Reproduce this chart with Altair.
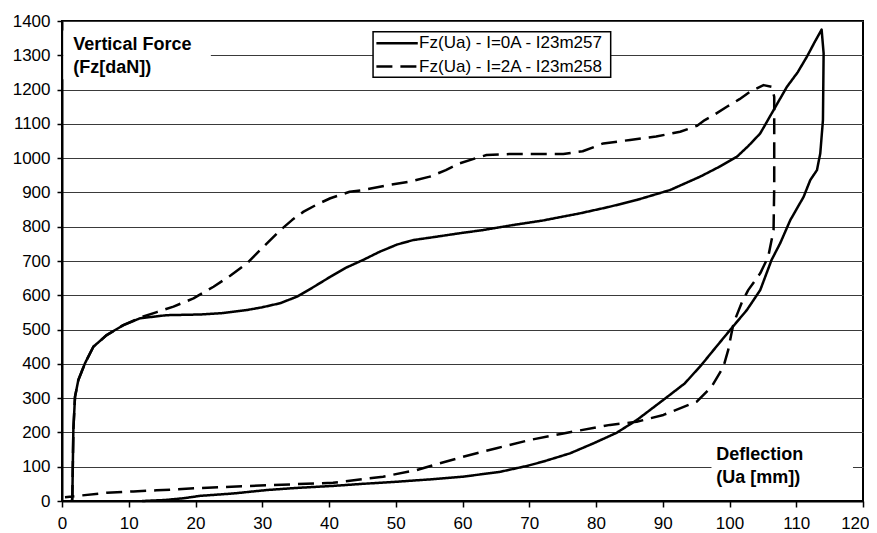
import altair as alt
import pandas as pd

# ---- data ----
X_TICKS = list(range(0, 121, 10))
Y_TICKS = list(range(0, 1401, 100))

SERIES = ["Fz(Ua) - I=0A - I23m257", "Fz(Ua) - I=2A - I23m258"]

# I = 0 A (solid): loading branch then unloading branch
S0_X = [1.5, 1.55, 1.7, 1.95, 2.45, 3.45, 4.7, 6.7, 9.2, 11.7, 15.7, 20.7, 24.0, 27.7,
        30.0, 32.7, 35.2, 37.5, 40.2, 42.5, 45.1, 47.6, 50.2, 52.6, 55.1, 59.6, 63.0,
        67.6, 72.0, 77.6, 82.0, 86.1, 91.1, 95.6, 98.5, 101.1, 102.8, 104.6, 106.6,
        108.6, 110.2, 111.6, 112.8, 113.8,
        114.1, 114.0, 113.6, 113.1, 112.1, 111.1, 109.1, 107.6, 106.3, 104.6, 102.6,
        100.1, 97.6, 95.8, 93.3, 90.1, 86.1, 83.1, 79.6, 76.1, 72.1, 69.6, 65.6, 60.1,
        55.1, 50.0, 45.0, 40.6, 35.0, 30.7, 25.7, 20.7, 18.2, 15.5, 13.2, 12.0]
S0_Y = [0, 13, 207, 304, 353, 402, 450, 484, 513, 533, 542, 544, 548, 557,
        565, 577, 596, 622, 654, 680, 703, 727, 748, 761, 768, 781, 790,
        805, 818, 839, 858, 878, 907, 946, 975, 1004, 1035, 1072, 1140,
        1208, 1250, 1296, 1340, 1375,
        1306, 1111, 1014, 965, 936, 887, 819, 752, 703, 615, 557,
        499, 440, 397, 343, 295, 236, 199, 168, 139, 115, 102, 85, 71,
        63, 56, 50, 44, 38, 32, 22, 15, 8, 3, 1, 0]

# I = 2 A (dashed): loading branch then unloading branch
S1_X = [1.5, 1.55, 1.7, 1.95, 2.45, 3.45, 4.7, 6.7, 9.2, 11.7, 14.2, 16.7, 19.7, 22.7,
        25.2, 27.7, 30.2, 32.7, 34.5, 36.2, 38.2, 40.2, 43.1, 45.1, 48.5, 52.0, 55.1,
        57.5, 59.6, 62.0, 63.6, 67.0, 70.1, 75.1, 78.0, 81.1, 85.1, 89.0, 92.6, 95.1,
        96.3, 97.6, 99.6, 101.5, 103.1, 105.1, 106.3,
        106.7, 106.7, 106.6, 105.8, 104.6, 102.8, 101.8, 100.6, 100.3, 99.8, 99.1,
        97.3, 95.1, 90.1, 86.1, 82.1, 75.1, 70.1, 65.1, 60.1, 56.6, 53.1, 48.1, 40.6,
        35.0, 30.7, 20.7, 14.2, 10.7, 6.7, 0.45]
S1_Y = [0, 13, 207, 304, 353, 402, 450, 484, 513, 535, 551, 567, 591, 625,
        657, 693, 742, 790, 820, 844, 865, 883, 902, 907, 920, 931, 946,
        965, 985, 1000, 1009, 1012, 1012, 1012, 1020, 1043, 1053, 1063, 1077, 1094,
        1111, 1125, 1150, 1172, 1194, 1213, 1208,
        1179, 917, 790, 712, 664, 615, 577, 518, 489, 440, 392,
        333, 290, 251, 231, 222, 197, 178, 154, 129, 110, 90, 71, 53,
        49, 46, 38, 31, 28, 24, 11]

rows = []
for name, xs_, ys_ in ((SERIES[0], S0_X, S0_Y), (SERIES[1], S1_X, S1_Y)):
    for i, (xv, yv) in enumerate(zip(xs_, ys_)):
        rows.append({"series": name, "i": i, "ua": xv, "fz": yv})
df = pd.DataFrame(rows)

FONT = "Liberation Sans"
xscale = alt.Scale(domain=[0, 120], nice=False, zero=False)
yscale = alt.Scale(domain=[0, 1400], nice=False, zero=False)
dash = alt.Scale(domain=SERIES, range=[[1, 0], [16, 8]])
last_x = X_TICKS[-1]
xaxis = alt.Axis(
    values=X_TICKS, title=None, grid=False, tickSize=6, format="d",
    labelPadding=8, labelFlush=False,
    labelAlign={"condition": {"test": f"datum.value == {last_x}", "value": "right"},
                "value": "center"},
    labelOffset={"condition": {"test": f"datum.value == {last_x}", "value": 6},
                 "value": 0},
)
yaxis = alt.Axis(values=Y_TICKS, title=None, grid=True, tickSize=5, format="d",
                 labelPadding=7)


def X(f):
    return alt.X(f, scale=xscale, axis=xaxis)


def Y(f):
    return alt.Y(f, scale=yscale, axis=yaxis)


lines = alt.Chart(df).mark_line(color="black", strokeWidth=2.5, strokeJoin="round").encode(
    x=X("ua:Q"),
    y=Y("fz:Q"),
    strokeDash=alt.StrokeDash("series:N", scale=dash, legend=None),
    order=alt.Order("i:Q"),
    detail="series:N",
)

# white boxes behind the axis-name annotations
boxes = pd.DataFrame({"x": [0.2, 97.3], "x2": [22.3, 118.5],
                      "y": [1230, 32], "y2": [1372, 178]})
box_layer = alt.Chart(boxes).mark_rect(fill="white", stroke=None).encode(
    x=X("x:Q"), x2="x2:Q", y=Y("y:Q"), y2="y2:Q",
)

ann = pd.DataFrame({"x": [1.7, 1.7, 98.0, 98.0],
                    "y": [1330, 1263, 134, 67],
                    "t": ["Vertical Force", "(Fz[daN])", "Deflection", "(Ua [mm])"]})
ann_layer = alt.Chart(ann).mark_text(align="left", baseline="middle", font=FONT,
                                     fontSize=18, fontWeight="bold", color="black").encode(
    x=X("x:Q"), y=Y("y:Q"), text="t:N",
)

# legend box
leg_box = pd.DataFrame({"x": [46.6], "x2": [82.2], "y": [1236], "y2": [1369]})
leg_box_layer = alt.Chart(leg_box).mark_rect(fill="white", stroke="black", strokeWidth=1.5).encode(
    x=X("x:Q"), x2="x2:Q", y=Y("y:Q"), y2="y2:Q",
)
leg = pd.DataFrame({"series": SERIES, "x": [47.1, 47.1], "x2": [53.3, 53.3],
                    "tx": [53.5, 53.5], "y": [1335, 1267]})
leg_lines = alt.Chart(leg).mark_rule(color="black", strokeWidth=2.5).encode(
    x=X("x:Q"), x2="x2:Q", y=Y("y:Q"),
    strokeDash=alt.StrokeDash("series:N", scale=dash, legend=None),
)
leg_text = alt.Chart(leg).mark_text(align="left", baseline="middle", font=FONT,
                                    fontSize=17, color="black").encode(
    x=X("tx:Q"), y=Y("y:Q"), text="series:N",
)

chart = alt.layer(lines, box_layer, ann_layer, leg_box_layer, leg_lines, leg_text).properties(
    width=801, height=480,
    autosize=alt.AutoSizeParams(type="none"),
    padding={"left": 54, "top": 13, "right": 6, "bottom": 32},
    background="white",
).configure_view(
    stroke="black", strokeWidth=2
).configure_axis(
    domainColor="black", domainWidth=2, tickColor="black", tickWidth=1.5,
    labelColor="black", labelFont=FONT, labelFontSize=17,
    gridColor="#3a3a3a", gridWidth=1.2,
)

chart.save("out.html", embed_options={"renderer": "svg", "actions": False})
